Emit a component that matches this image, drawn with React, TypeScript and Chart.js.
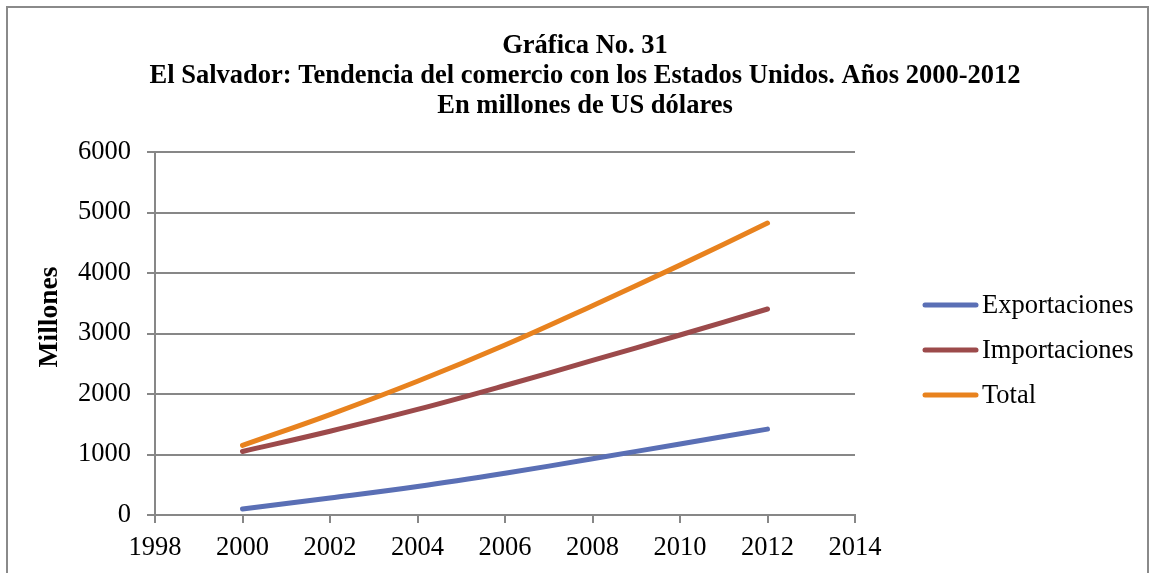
import React, { useEffect, useRef } from "react";
import { Chart, registerables } from "chart.js";

Chart.register(...registerables);

const years = [2000, 2002, 2004, 2006, 2008, 2010, 2012];
const exportaciones = [100, 280, 470, 690, 930, 1175, 1420];
const importaciones = [1050, 1385, 1745, 2140, 2555, 2975, 3405];
const total = [1150, 1660, 2210, 2810, 3460, 4130, 4825];
const seriesNames = ["Exportaciones", "Importaciones", "Total"];
const seriesColors = ["#5A6FB5", "#9C4A4B", "#E8821E"];
const titleLines = [
  "Gráfica No. 31",
  "El Salvador: Tendencia del comercio con los Estados Unidos. Años 2000-2012",
  "En millones de US dólares",
];
const yAxisTitle = "Millones";
const xMin = 1998;
const xMax = 2014;
const xStep = 2;
const yMin = 0;
const yMax = 6000;
const yStep = 1000;

const FONT = "'Liberation Serif', 'Times New Roman', serif";
const GRID = "#878787";
const TICK_SIZE = 26.5;

const overlayPlugin = {
  id: "overlay",
  afterDraw(chart: any) {
    const ctx = chart.ctx;
    // title
    ctx.save();
    ctx.font = `bold 26.5px ${FONT}`;
    ctx.fillStyle = "#000";
    ctx.textAlign = "center";
    ctx.textBaseline = "middle";
    titleLines.forEach((t, i) => ctx.fillText(t, 585, 46 + i * 30));
    ctx.restore();

    // y axis title
    ctx.save();
    ctx.font = `bold 27.5px ${FONT}`;
    ctx.fillStyle = "#000";
    ctx.textAlign = "center";
    ctx.textBaseline = "middle";
    ctx.translate(50, 317);
    ctx.rotate(-Math.PI / 2);
    ctx.fillText(yAxisTitle, 0, 0);
    ctx.restore();

    // legend
    ctx.save();
    ctx.font = `${TICK_SIZE}px ${FONT}`;
    ctx.textBaseline = "middle";
    ctx.textAlign = "left";
    chart.data.datasets.forEach((ds: any, i: number) => {
      const y = 305 + i * 45;
      ctx.strokeStyle = ds.borderColor;
      ctx.lineWidth = 5;
      ctx.lineCap = "round";
      ctx.beginPath();
      ctx.moveTo(925, y);
      ctx.lineTo(976, y);
      ctx.stroke();
      ctx.fillStyle = "#000";
      ctx.fillText(ds.label, 982, y + 1);
    });
    ctx.restore();
  },
};

export default function App() {
  const ref = useRef<HTMLCanvasElement | null>(null);

  useEffect(() => {
    if (!ref.current) return;
    const seriesValues = [exportaciones, importaciones, total];
    const chart = new Chart(ref.current, {
      type: "line",
      data: {
        datasets: seriesNames.map((name, i) => ({
          label: name,
          data: years.map((yr, j) => ({ x: yr, y: seriesValues[i][j] })),
          borderColor: seriesColors[i],
          backgroundColor: seriesColors[i],
          borderWidth: 5,
          borderCapStyle: "round" as const,
          borderJoinStyle: "round" as const,
          pointRadius: 0,
          tension: 0.4,
          fill: false,
        })),
      },
      options: {
        responsive: false,
        animation: false,
        layout: { padding: { left: 0, right: 1154 - 855, top: 152, bottom: 0 } },
        plugins: {
          legend: { display: false },
          tooltip: { enabled: false },
          title: { display: false },
        },
        scales: {
          x: {
            type: "linear",
            min: xMin,
            max: xMax,
            ticks: {
              stepSize: xStep,
              color: "#000",
              font: { family: FONT, size: TICK_SIZE },
              padding: 9,
              callback: (v: any) => String(v),
            },
            grid: {
              drawOnChartArea: false,
              color: GRID,
              lineWidth: 2,
              tickLength: 8,
            },
            border: { color: GRID, width: 2 },
            afterFit: (s: any) => {
              s.height = 573 - 515;
            },
          },
          y: {
            min: yMin,
            max: yMax,
            ticks: {
              stepSize: yStep,
              color: "#000",
              font: { family: FONT, size: TICK_SIZE },
              padding: 16,
              callback: (v: any) => String(v),
            },
            grid: { color: GRID, lineWidth: 2, tickLength: 8 },
            border: { color: GRID, width: 2 },
            afterFit: (s: any) => {
              s.width = 155;
            },
          },
        },
      },
      plugins: [overlayPlugin],
    });
    return () => chart.destroy();
  }, []);

  return (
    <div style={{ position: "fixed", left: 0, top: 0, width: 1154, height: 573, background: "#fff", overflow: "hidden" }}>
      <canvas ref={ref} width={1154} height={573} style={{ display: "block", width: 1154, height: 573 }} />
      <div
        style={{
          position: "absolute",
          left: 6,
          top: 6,
          width: 1139,
          height: 700,
          border: "2px solid #8a8a8a",
          pointerEvents: "none",
        }}
      />
    </div>
  );
}
